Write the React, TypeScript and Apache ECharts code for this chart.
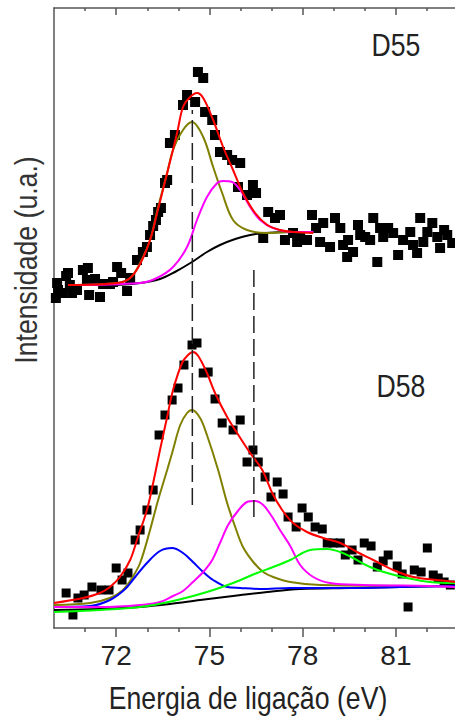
import React, { useEffect, useRef } from "react";
import * as echarts from "echarts";

// ---- D55 spectrum (binding energy eV, intensity a.u.) ----
const d55Points: number[][] = [
  [70.06, 330], [70.1, 345], [70.13, 338], [70.26, 335], [70.39, 352], [70.45, 355], [70.51, 343], [70.58, 335],
  [70.74, 338], [70.93, 358], [71.06, 348], [71.09, 360], [71.13, 333], [71.32, 349], [71.48, 331], [71.58, 344],
  [71.8, 344], [71.9, 346], [72.03, 361], [72.16, 355], [72.35, 337], [72.45, 350], [72.67, 368], [72.86, 376],
  [72.99, 381], [73.09, 393], [73.19, 402], [73.28, 408], [73.35, 416], [73.44, 420], [73.57, 445], [73.64, 448],
  [73.73, 485], [73.89, 493], [74.15, 523], [74.28, 533], [74.54, 526], [74.63, 556], [74.8, 550], [74.86, 516],
  [75.09, 508], [75.18, 493], [75.34, 476], [75.57, 473], [75.73, 468], [75.92, 441], [75.99, 465], [76.21, 433],
  [76.4, 443], [76.5, 435], [76.73, 390], [76.89, 416], [77.11, 410], [77.27, 413], [77.43, 388], [77.69, 395],
  [77.82, 386], [77.92, 390], [78.14, 388], [78.3, 413], [78.43, 400], [78.56, 386], [78.66, 405], [78.88, 381],
  [79.04, 410], [79.21, 400], [79.3, 383], [79.43, 371], [79.46, 388], [79.62, 376], [79.78, 403], [79.85, 393],
  [80.01, 391], [80.17, 388], [80.27, 410], [80.4, 366], [80.49, 400], [80.59, 391], [80.75, 400], [80.91, 395],
  [81.07, 373], [81.23, 388], [81.46, 396], [81.55, 383], [81.68, 375], [81.78, 410], [81.88, 386], [82.01, 396],
  [82.17, 405], [82.33, 391], [82.42, 380], [82.55, 398], [82.65, 393], [82.81, 385],
];
const d55Background: number[][] = [
  [70.45, 343], [71.8, 343], [72.77, 345], [73.41, 349], [73.89, 356], [74.44, 366], [74.92, 376], [75.34, 383],
  [75.83, 389], [76.31, 393], [76.79, 395], [77.6, 396], [78.34, 396],
];
const d55PeakMain: number[][] = [
  [70.45, 343], [72.03, 345], [72.45, 350], [72.77, 365], [73.09, 388], [73.35, 421], [73.64, 455], [73.83, 478],
  [74.15, 498], [74.44, 506], [74.8, 491], [75.12, 461], [75.41, 435], [75.76, 408], [76.21, 398], [76.86, 395],
  [77.6, 396], [78.34, 396],
];
const d55PeakSecond: number[][] = [
  [70.45, 343], [72.77, 345], [73.31, 350], [73.83, 361], [74.28, 381], [74.6, 408], [74.92, 431], [75.25, 445],
  [75.44, 447], [75.73, 446], [75.99, 438], [76.31, 421], [76.63, 408], [77.05, 400], [77.69, 396], [78.34, 396],
];
const d55Envelope: number[][] = [
  [70.45, 343], [72.03, 345], [72.45, 350], [72.77, 364], [73.09, 388], [73.31, 414], [73.64, 455], [73.96, 495],
  [74.15, 521], [74.38, 531], [74.6, 535], [74.8, 530], [75.12, 508], [75.44, 481], [75.76, 458], [76.08, 435],
  [76.47, 415], [76.86, 403], [77.27, 398], [77.69, 396], [78.34, 395],
];

// ---- D58 spectrum ----
const d58Points: number[][] = [
  [70.39, 35], [70.61, 13], [70.77, 30], [70.97, 33], [71.22, 41], [71.51, 38], [71.77, 38], [72.0, 60],
  [72.19, 48], [72.38, 55], [72.61, 88], [72.77, 98], [72.99, 118], [73.19, 138], [73.38, 193], [73.57, 213],
  [73.8, 228], [73.99, 240], [74.18, 263], [74.44, 283], [74.6, 285], [74.8, 255], [74.96, 256], [75.18, 229],
  [75.41, 205], [75.76, 198], [75.99, 208], [76.21, 166], [76.4, 178], [76.57, 166], [76.79, 151], [76.98, 131],
  [77.18, 146], [77.37, 134], [77.53, 111], [77.79, 101], [77.98, 120], [78.18, 111], [78.4, 101], [78.63, 99],
  [78.79, 85], [78.98, 85], [79.21, 85], [79.37, 73], [79.59, 78], [79.78, 68], [79.98, 85], [80.2, 82],
  [80.4, 61], [80.59, 67], [80.75, 73], [81.04, 62], [81.2, 54], [81.39, 21], [81.59, 58], [81.81, 56],
  [82.01, 80], [82.2, 53], [82.36, 50], [82.55, 46], [82.75, 43], [82.91, 36],
];
const d58Background: number[][] = [
  [70.0, 18], [71.48, 19], [72.77, 21], [73.73, 24], [74.7, 28], [75.76, 32], [76.86, 36], [77.92, 39],
  [79.53, 40], [81.14, 41], [82.91, 42],
];
const d58PeakLow: number[][] = [
  [70.0, 21], [71.16, 22], [71.8, 28], [72.29, 39], [72.61, 51], [72.99, 65], [73.41, 77], [73.8, 80],
  [74.15, 75], [74.47, 66], [74.8, 56], [75.12, 48], [75.57, 41], [75.99, 40], [76.63, 39], [77.6, 40],
  [79.53, 40], [81.14, 41], [82.91, 42],
];
const d58PeakMain: number[][] = [
  [70.0, 23], [71.16, 25], [71.8, 30], [72.22, 38], [72.51, 50], [72.77, 65], [73.09, 98], [73.35, 128],
  [73.64, 158], [73.8, 175], [74.06, 203], [74.28, 215], [74.44, 218], [74.7, 210], [74.92, 193], [75.28, 158],
  [75.57, 125], [75.83, 101], [76.08, 81], [76.41, 66], [76.73, 56], [77.05, 51], [77.6, 46], [78.56, 43],
  [82.91, 42],
];
const d58PeakSecond: number[][] = [
  [70.0, 21], [71.48, 21], [72.77, 23], [73.41, 26], [73.83, 32], [74.15, 37], [74.47, 46], [74.8, 56],
  [75.09, 68], [75.34, 85], [75.6, 103], [75.89, 116], [76.21, 126], [76.47, 127], [76.73, 123], [77.02, 111],
  [77.27, 98], [77.6, 82], [77.92, 63], [78.34, 51], [78.88, 45], [79.95, 43], [82.1, 42], [82.91, 41],
];
const d58PeakHigh: number[][] = [
  [70.0, 16], [71.48, 18], [72.77, 21], [73.83, 27], [74.92, 36], [75.76, 45], [76.53, 55], [77.05, 61],
  [77.6, 68], [78.24, 78], [78.79, 79], [79.21, 76], [79.62, 70], [80.17, 61], [80.72, 55], [81.36, 50],
  [82.1, 46], [82.91, 45],
];
const d58Envelope: number[][] = [
  [70.0, 25], [70.93, 30], [71.48, 35], [71.8, 41], [72.12, 51], [72.45, 68], [72.7, 91], [72.99, 118],
  [73.19, 145], [73.41, 178], [73.64, 211], [73.83, 238], [74.12, 265], [74.31, 273], [74.47, 276], [74.64, 272],
  [74.92, 255], [75.18, 235], [75.57, 211], [75.89, 195], [76.31, 175], [76.7, 158], [77.02, 135], [77.34, 118],
  [77.69, 105], [78.14, 96], [78.66, 90], [79.21, 85], [79.75, 76], [80.27, 68], [80.91, 58], [81.56, 51],
  [82.33, 48], [82.91, 46],
];

// ---- reference peak positions (dashed guides) ----
const guideEnergies = [74.45, 76.43];
const guideSpans = [[123, 518], [111, 359]];

// ---- axis ticks ----
const xMajorTicks = [72, 75, 78, 81];
const xMinorTicks = [71, 73, 74, 76, 77, 79, 80, 82];
const sampleLabels = ["D55", "D58"];

const FONT = "'Liberation Sans', Arial, sans-serif";
const AXIS_COLOR = "#555";

function lineSeries(data: number[][], color: string, width = 2) {
  return {
    type: "line",
    data,
    showSymbol: false,
    smooth: 0.35,
    lineStyle: { color, width },
    itemStyle: { color },
    silent: true,
    z: 3,
  };
}

function scatterSeries(data: number[][], size: number) {
  return {
    type: "scatter",
    data,
    symbol: "rect",
    symbolSize: size,
    itemStyle: { color: "#000", opacity: 1 },
    z: 2,
  };
}

function label(text: string, x: number, y: number, rotation = 0, fill = "#222") {
  return {
    type: "text",
    x,
    y,
    rotation,
    scaleX: 0.86,
    style: { text, fontSize: 31, fontFamily: FONT, fill, align: "center", verticalAlign: "middle" },
  };
}

export default function App() {
  const ref = useRef<HTMLDivElement>(null);
  useEffect(() => {
    document.body.style.margin = "0";
    const chart = echarts.init(ref.current!, null, { renderer: "svg" });
    const gridBox = { left: 54, top: 8, right: 0, bottom: 94 };
    const xBase = { type: "value", min: 70, max: 82.9, interval: 1, splitLine: { show: false } };
    const tickLine = { color: AXIS_COLOR, width: 1.5 };
    const guides = guideEnergies.map((e, i) => ({
      type: "line",
      data: [[e, guideSpans[i][0]], [e, guideSpans[i][1]]],
      showSymbol: false,
      lineStyle: { color: "#222", width: 1.5, type: [17, 6] },
      silent: true,
      z: 4,
    }));
    chart.setOption({
      animation: false,
      backgroundColor: "#fff",
      grid: [{ ...gridBox }, { ...gridBox }],
      xAxis: [
        {
          ...xBase,
          gridIndex: 0,
          position: "bottom",
          axisLine: { show: true, onZero: false, lineStyle: tickLine },
          axisTick: { show: true, length: 9, customValues: xMajorTicks, lineStyle: tickLine },
          axisLabel: {
            show: true,
            customValues: xMajorTicks,
            margin: 13,
            fontSize: 28,
            fontFamily: FONT,
            color: "#222",
            formatter: (v: number) => (v % 3 === 0 ? String(v) : ""),
          },
        },
        {
          ...xBase,
          gridIndex: 0,
          position: "top",
          axisLine: { show: true, onZero: false, lineStyle: tickLine },
          axisTick: { show: true, inside: true, length: 7, customValues: xMajorTicks, lineStyle: tickLine },
          axisLabel: { show: false },
        },
        {
          ...xBase,
          gridIndex: 1,
          position: "bottom",
          axisLine: { show: false, onZero: false },
          axisTick: { show: true, length: 4, customValues: xMinorTicks, lineStyle: tickLine },
          axisLabel: { show: false },
        },
        {
          ...xBase,
          gridIndex: 1,
          position: "top",
          axisLine: { show: false, onZero: false },
          axisTick: { show: true, inside: true, length: 3, customValues: xMinorTicks, lineStyle: tickLine },
          axisLabel: { show: false },
        },
      ],
      yAxis: [
        {
          type: "value",
          gridIndex: 0,
          min: 0,
          max: 620,
          axisLine: { show: true, lineStyle: tickLine },
          axisTick: { show: false },
          axisLabel: { show: false },
          splitLine: { show: false },
        },
        { type: "value", gridIndex: 1, min: 0, max: 620, show: false },
      ],
      series: [
        scatterSeries(d55Points, 10),
        scatterSeries(d58Points, 9),
        lineSeries(d55Background, "#000000"),
        lineSeries(d55PeakMain, "#808000"),
        lineSeries(d55PeakSecond, "#ff00ff"),
        lineSeries(d55Envelope, "#ff0000"),
        lineSeries(d58Background, "#000000"),
        lineSeries(d58PeakMain, "#808000"),
        lineSeries(d58PeakLow, "#0000ff"),
        lineSeries(d58PeakSecond, "#ff00ff"),
        lineSeries(d58PeakHigh, "#00ff00"),
        lineSeries(d58Envelope, "#ff0000"),
        ...guides,
      ],
      graphic: [
        label(sampleLabels[0], 396, 45),
        label(sampleLabels[1], 401, 386),
        label("Intensidade (u.a.)", 26, 260, Math.PI / 2, "#333"),
        label("Energia de ligação (eV)", 248, 698),
      ],
    });
    return () => chart.dispose();
  }, []);
  return <div ref={ref} style={{ width: 455, height: 722, position: "absolute", left: 0, top: 0 }} />;
}
